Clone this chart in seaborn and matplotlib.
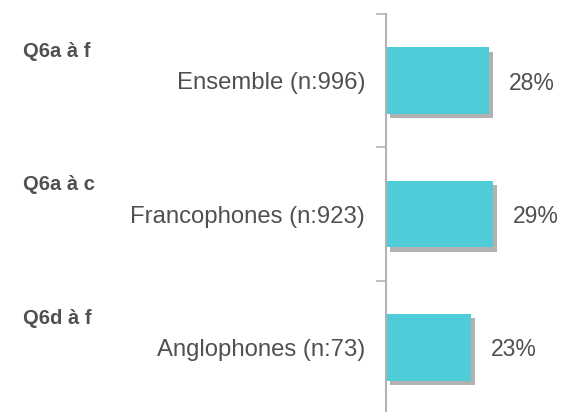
import matplotlib
matplotlib.use("Agg")
import matplotlib.pyplot as plt
import matplotlib.patheffects as pe
import matplotlib.transforms as mtransforms
import seaborn as sns
import pandas as pd

categories = ["Ensemble (n:996)", "Francophones (n:923)", "Anglophones (n:73)"]
values = [28, 29, 23]
groups = ["Q6a à f", "Q6a à c", "Q6d à f"]
value_labels = ["28%", "29%", "23%"]

sns.set_style("white")
plt.rcParams['font.family'] = ['Liberation Sans', 'DejaVu Sans']

W, H = 563, 412
fig = plt.figure(figsize=(W / 100, H / 100), dpi=100)
ax = fig.add_axes([386 / W, (412 - 414) / H, (W - 386) / W, 400 / H])

df = pd.DataFrame({"cat": categories, "val": values})
sns.barplot(data=df, x="val", y="cat", orient="h", color="#4ECDD9",
            saturation=1, width=0.5, ax=ax)

for p in ax.patches:
    p.set_path_effects([pe.SimplePatchShadow(offset=(3, -3), shadow_rgbFace="#666666", alpha=0.5),
                        pe.Normal()])
    p.set_edgecolor("none")

ax.set_xlim(0, 48.1)
ax.set_ylim(2.5, -0.5)
ax.set_xlabel("")
ax.set_ylabel("")
ax.set_xticks([])

text_color = "#505050"
ax.set_yticks(range(len(categories)))
ax.set_yticklabels(categories, fontsize=17.2, color=text_color)
ax.tick_params(axis="y", which="major", length=0, pad=15)
ax.set_yticks([-0.5, 0.5, 1.5], minor=True)
ax.tick_params(axis="y", which="minor", left=True, length=7, width=1.2, color="#b3b3b3")

for s in ["top", "right", "bottom"]:
    ax.spines[s].set_visible(False)
ax.spines["left"].set_color("#b3b3b3")
ax.spines["left"].set_linewidth(1.5)

for i, (v, lab) in enumerate(zip(values, value_labels)):
    ax.text(v + 5.4, i + 0.02, lab, va="center", ha="left", fontsize=16.5, color=text_color)

trans = mtransforms.blended_transform_factory(fig.transFigure, ax.transData)
for i, g in enumerate(groups):
    ax.text(23 / W, i - 0.22, g, transform=trans, va="center", ha="left",
            fontsize=14.5, fontweight="bold", color=text_color)

fig.savefig("out.png", dpi=100)
